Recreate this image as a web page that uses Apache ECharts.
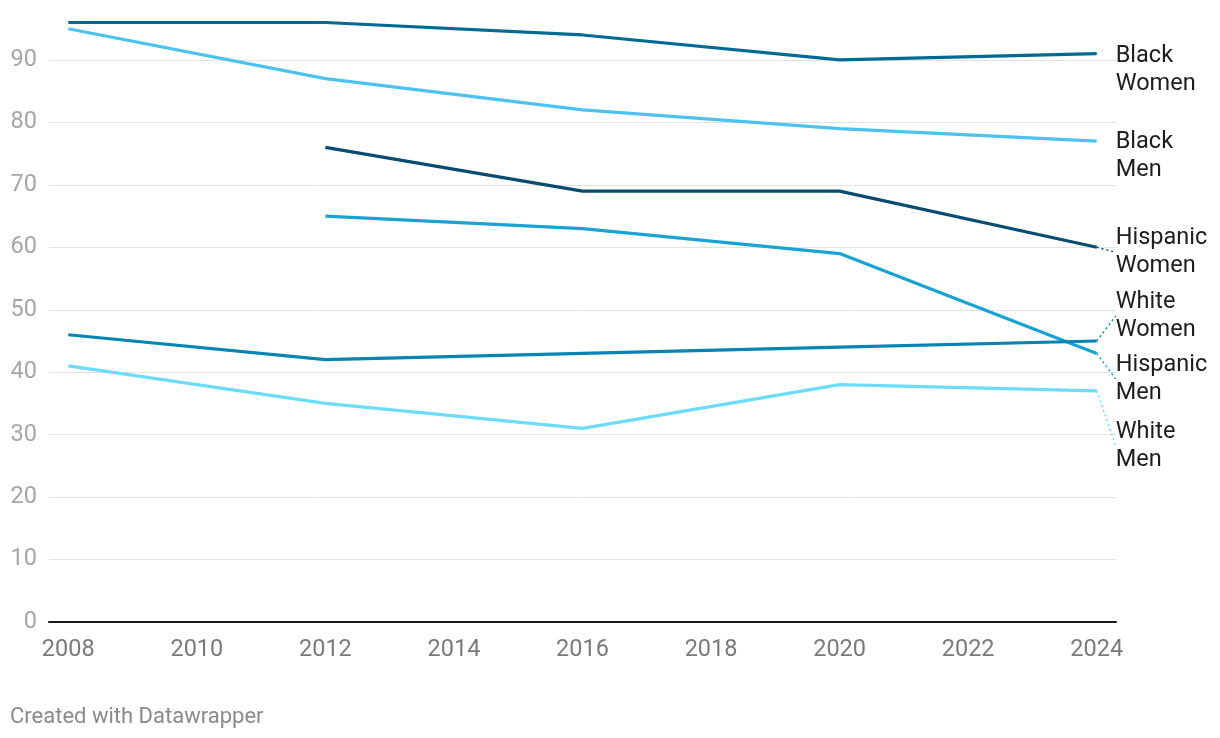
<!DOCTYPE html>
<html><head><meta charset="utf-8">
<script src="https://cdn.jsdelivr.net/npm/echarts@6/dist/echarts.min.js"></script>
<style>html,body{margin:0;padding:0;background:#fff}#c{width:1220px;height:738px}</style>
</head><body><div id="c"></div>
<script>
const years = [2008, 2012, 2016, 2020, 2024];
const xTickLabels = [2008, 2010, 2012, 2014, 2016, 2018, 2020, 2022, 2024];
const blackWomen = [96, 96, 94, 90, 91];
const blackMen = [95, 87, 82, 79, 77];
const hispanicWomen = [null, 76, 69, 69, 60];
const hispanicMen = [null, 65, 63, 59, 43];
const whiteWomen = [46, 42, 43, 44, 45];
const whiteMen = [41, 35, 31, 38, 37];
const seriesNames = ['Black\nWomen','Black\nMen','Hispanic\nWomen','Hispanic\nMen','White\nWomen','White\nMen'];
const seriesValues = [blackWomen, blackMen, hispanicWomen, hispanicMen, whiteWomen, whiteMen];
const colors = ['#006a93','#4cc2ee','#0a4b70','#19a3d2','#0784b2','#6ddcfc'];
const labelDy = [16.5, 15, 5, 25.5, -25, 55];
const showGuide = [false, false, true, true, true, true];
const FONT = 'Roboto, "Noto Sans", sans-serif';

const series = seriesNames.map((name, i) => {
  const vals = seriesValues[i];
  const data = years.map((y, j) => {
    if (vals[j] === null) return [y, null];
    if (j === years.length - 1) return {value: [y, vals[j]], label: {show: true}};
    return [y, vals[j]];
  });
  return {
    name, type: 'line', data, showSymbol: true, symbol: 'circle', symbolSize: 0,
    lineStyle: {width: 3.2, color: colors[i]}, itemStyle: {color: colors[i]},
    connectNulls: false, animation: false,
    label: {show: false, position: 'right', distance: 19, formatter: name,
      color: '#1d1d1d', fontSize: 23.5, lineHeight: 27.5, fontFamily: FONT, align: 'left'},
    labelLine: {show: showGuide[i], length2: 0, lineStyle: {color: colors[i], width: 1.5, type: [2, 3]}},
    labelLayout: {dy: labelDy[i]},
    emphasis: {disabled: true}
  };
});

const chart = echarts.init(document.getElementById('c'), null, {renderer: 'canvas'});
chart.setOption({
  animation: false,
  grid: {left: 49, right: 104, top: 0, bottom: 116, containLabel: false},
  xAxis: {type: 'value', min: 2007.7, max: 2024.3,
    axisLine: {show: true, lineStyle: {color: '#1a1a1a', width: 2}},
    axisTick: {show: false}, splitLine: {show: false},
    axisLabel: {customValues: xTickLabels, formatter: v => String(v), color: '#7a7a7a', fontSize: 23.5, fontFamily: FONT, margin: 16}
  },
  yAxis: {type: 'value', min: 0, max: 99.6, interval: 10,
    axisLine: {show: false}, axisTick: {show: false},
    splitLine: {showMaxLine: false, lineStyle: {color: '#e3e3e3', width: 1}},
    axisLabel: {showMaxLabel: false, color: '#a6a6a6', fontSize: 23.5, fontFamily: FONT, margin: 12}
  },
  graphic: [{type: 'text', left: 10, top: 706, style: {text: 'Created with Datawrapper', fill: '#8a8a8a', fontSize: 22, fontFamily: FONT}}],
  series
});
</script></body></html>
